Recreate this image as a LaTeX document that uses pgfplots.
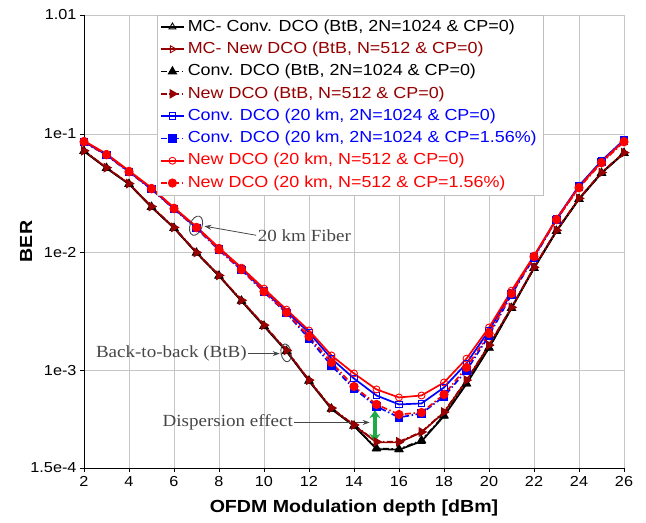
\documentclass[border=0pt]{standalone}
\usepackage{fontspec}
\setmainfont{Liberation Sans}[FakeStretch=1.12]
\newfontfamily\annfont{Liberation Serif}[FakeStretch=1.12]
\usepackage{pgfplots}
\pgfplotsset{compat=1.18}
\usetikzlibrary{arrows.meta}
\definecolor{dred}{RGB}{150,0,0}
\definecolor{myblue}{RGB}{0,0,255}
\definecolor{myred}{RGB}{255,0,0}
\definecolor{anngray}{RGB}{70,70,70}
\definecolor{mygreen}{RGB}{30,170,70}
\begin{document}
\begin{tikzpicture}
\begin{axis}[
  at={(0,0)}, anchor=south west,
  width=540bp, height=453bp, scale only axis,
  xmin=2, xmax=26, ymode=log, ymin=1.5e-4, ymax=1.01,
  xtick={2,4,...,26},
  ytick={1.5e-4,1e-3,1e-2,1e-1,1.01},
  yticklabels={1.5e-4,1e-3,1e-2,1e-1,1.01},
  grid=major, major grid style={gray!45, line width=0.6pt},
  axis x line*=bottom, axis y line*=left,
  axis line style={black, line width=0.9pt},
  tick align=outside, major tick length=4bp,
  tick style={black, line width=0.6pt},
  /pgf/number format/assume math mode=true,
  ticklabel style={font=\fontsize{14.5bp}{16bp}\selectfont},
  xticklabel style={yshift=-1bp},
  xlabel={\bfseries OFDM Modulation depth [dBm]},
  ylabel={\bfseries BER},
  every axis x label/.style={at={(axis description cs:0.5,-0.0883)}, anchor=center, font=\fontsize{17.5bp}{20bp}\selectfont},
  every axis y label/.style={at={(axis description cs:-0.1074,0.5)}, rotate=90, anchor=center, font=\fontsize{17.5bp}{20bp}\selectfont},
  legend image code/.code={\draw[mark repeat=2,mark phase=2] plot coordinates {(0bp,0bp) (11.5bp,0bp) (23bp,0bp)};},
  legend style={at={(axis description cs:0.135,1)}, anchor=north west, draw=gray!50, fill=white,
    font=\fontsize{16bp}{18bp}\selectfont, legend cell align=left, row sep=2.8bp,
    nodes={inner xsep=3bp, inner ysep=2bp, text height=12bp, text depth=3.5bp},
    inner xsep=3bp, inner ysep=2bp},
  every axis plot/.append style={line width=1.7bp},
  sol/.style={solid},
  dd/.style={dash pattern=on 6bp off 2.5bp on 1.5bp off 2.5bp},
]
% MC- Conv. DCO BtB
\addplot[black, sol, mark=triangle, mark size=4bp, mark options={solid, fill=white, line width=0.9bp}] coordinates {
(2,0.0712)(3,0.0512)(4,0.0376)(5,0.0240)(6,0.0160)(7,0.00985)(8,0.00630)(9,0.00386)(10,0.00237)(11,0.00145)(12,0.000815)(13,0.000472)(14,0.000340)(15,0.000217)(16,0.000214)(17,0.000252)(18,0.000412)(19,0.000770)(20,0.00155)(21,0.00335)(22,0.00730)(23,0.0150)(24,0.0280)(25,0.0465)(26,0.0685)};
\addlegendentry{\textcolor{black}{MC- Conv. DCO (BtB, 2N=1024 \& CP=0)}}
% MC- New DCO BtB
\addplot[dred, sol, mark=triangle, mark size=4bp, mark options={solid, fill=white, rotate=-90, line width=0.9bp}] coordinates {
(2,0.0718)(3,0.0516)(4,0.0379)(5,0.0242)(6,0.0161)(7,0.00991)(8,0.00634)(9,0.00390)(10,0.00240)(11,0.00147)(12,0.000824)(13,0.000478)(14,0.000344)(15,0.000247)(16,0.000247)(17,0.000300)(18,0.000442)(19,0.000824)(20,0.00163)(21,0.00340)(22,0.00740)(23,0.0152)(24,0.0283)(25,0.0469)(26,0.0691)};
\addlegendentry{\textcolor{dred}{MC- New DCO (BtB, N=512 \& CP=0)}}
% Conv. DCO BtB
\addplot[black, dd, mark=triangle*, mark size=4bp, mark options={solid}] coordinates {
(2,0.0715)(3,0.0514)(4,0.0377)(5,0.0241)(6,0.0160)(7,0.00988)(8,0.00632)(9,0.00388)(10,0.00238)(11,0.00146)(12,0.000820)(13,0.000475)(14,0.000342)(15,0.000220)(16,0.000216)(17,0.000257)(18,0.000417)(19,0.000777)(20,0.00156)(21,0.00337)(22,0.00735)(23,0.0151)(24,0.0281)(25,0.0467)(26,0.0688)};
\addlegendentry{\textcolor{black}{Conv. DCO (BtB, 2N=1024 \& CP=0)}}
% New DCO BtB
\addplot[dred, dd, mark=triangle*, mark size=4bp, mark options={solid, rotate=-90}] coordinates {
(2,0.0720)(3,0.0518)(4,0.0380)(5,0.0243)(6,0.0162)(7,0.00995)(8,0.00637)(9,0.00392)(10,0.00242)(11,0.00148)(12,0.000830)(13,0.000482)(14,0.000347)(15,0.000250)(16,0.000250)(17,0.000303)(18,0.000446)(19,0.000830)(20,0.00164)(21,0.00342)(22,0.00745)(23,0.0153)(24,0.0285)(25,0.0471)(26,0.0694)};
\addlegendentry{\textcolor{dred}{New DCO (BtB, N=512 \& CP=0)}}
% Conv. DCO 20 km CP=0
\addplot[myblue, sol, mark=square, mark size=3.3bp, mark options={solid, fill=white, line width=0.9bp}] coordinates {
(2,0.0856)(3,0.0665)(4,0.0478)(5,0.0343)(6,0.0233)(7,0.0161)(8,0.0107)(9,0.00726)(10,0.00473)(11,0.00315)(12,0.00209)(13,0.00126)(14,0.000856)(15,0.000615)(16,0.000517)(17,0.000527)(18,0.000719)(19,0.00115)(20,0.00218)(21,0.00455)(22,0.00917)(23,0.0192)(24,0.0364)(25,0.0592)(26,0.0890)};
\addlegendentry{\textcolor{myblue}{Conv. DCO (20 km, 2N=1024 \& CP=0)}}
% Conv. DCO 20 km CP=1.56%
\addplot[myblue, dd, mark=square*, mark size=3.3bp, mark options={solid}] coordinates {
(2,0.0850)(3,0.0660)(4,0.0474)(5,0.0340)(6,0.0231)(7,0.0159)(8,0.0104)(9,0.00705)(10,0.00460)(11,0.00305)(12,0.00186)(13,0.00110)(14,0.000705)(15,0.000497)(16,0.000401)(17,0.000434)(18,0.000604)(19,0.00100)(20,0.00197)(21,0.00438)(22,0.00899)(23,0.0188)(24,0.0357)(25,0.0581)(26,0.0873)};
\addlegendentry{\textcolor{myblue}{Conv. DCO (20 km, 2N=1024 \& CP=1.56\%)}}
% New DCO 20 km CP=0
\addplot[myred, sol, mark=o, mark size=3.5bp, mark options={solid, fill=white, line width=0.9bp}] coordinates {
(2,0.0873)(3,0.0678)(4,0.0488)(5,0.0350)(6,0.0238)(7,0.0164)(8,0.0109)(9,0.00740)(10,0.00492)(11,0.00327)(12,0.00218)(13,0.00134)(14,0.000944)(15,0.000692)(16,0.000592)(17,0.000615)(18,0.000792)(19,0.00126)(20,0.00231)(21,0.00473)(22,0.00934)(23,0.0192)(24,0.0357)(25,0.0581)(26,0.0873)};
\addlegendentry{\textcolor{myred}{New DCO (20 km, N=512 \& CP=0)}}
% New DCO 20 km CP=1.56%
\addplot[myred, dd, mark=*, mark size=3.7bp, mark options={solid}] coordinates {
(2,0.0856)(3,0.0665)(4,0.0478)(5,0.0343)(6,0.0233)(7,0.0161)(8,0.0105)(9,0.00711)(10,0.00464)(11,0.00309)(12,0.00194)(13,0.00117)(14,0.000733)(15,0.000517)(16,0.000425)(17,0.000442)(18,0.000627)(19,0.00106)(20,0.00205)(21,0.00447)(22,0.00917)(23,0.0188)(24,0.0350)(25,0.0569)(26,0.0856)};
\addlegendentry{\textcolor{myred}{New DCO (20 km, N=512 \& CP=1.56\%)}}
% annotations
\draw[anngray, line width=0.9bp, rotate around={-20:(axis cs:6.98,0.01675)}] (axis cs:6.98,0.01675) ellipse [x radius=6bp, y radius=10bp];
\draw[anngray, line width=0.8bp, -{Stealth[length=7bp,width=5bp]}] (axis cs:9.65,0.0139) -- (axis cs:7.35,0.0166);
\node[anchor=west, inner sep=0pt, text=anngray, font=\annfont\fontsize{17bp}{19bp}\selectfont] at (axis cs:9.72,0.01378) {20 km Fiber};
\draw[anngray, line width=0.9bp, rotate around={10:(axis cs:10.98,0.00141)}] (axis cs:10.98,0.00141) ellipse [x radius=5bp, y radius=9bp];
\draw[anngray, line width=0.8bp, -{Stealth[length=7bp,width=5bp]}] (axis cs:9.30,0.00139) -- (axis cs:10.70,0.00139);
\node[anchor=east, inner sep=0pt, text=anngray, font=\annfont\fontsize{17bp}{19bp}\selectfont] at (axis cs:9.24,0.00139) {Back-to-back (BtB)};
\draw[anngray, line width=0.8bp, -{Stealth[length=7bp,width=5bp]}] (axis cs:11.35,0.000364) -- (axis cs:14.70,0.000364);
\node[anchor=east, inner sep=0pt, text=anngray, font=\annfont\fontsize{17bp}{19bp}\selectfont] at (axis cs:11.29,0.000364) {Dispersion effect};
\draw[mygreen, line width=3.5bp, {Stealth[length=8bp,width=11bp]}-{Stealth[length=8bp,width=11bp]}] (axis cs:14.93,0.000462) -- (axis cs:14.93,0.000250);
\end{axis}
\pgfresetboundingbox
\path[use as bounding box] (-84bp,-55bp) rectangle (562bp,468bp);
\end{tikzpicture}
\end{document}
